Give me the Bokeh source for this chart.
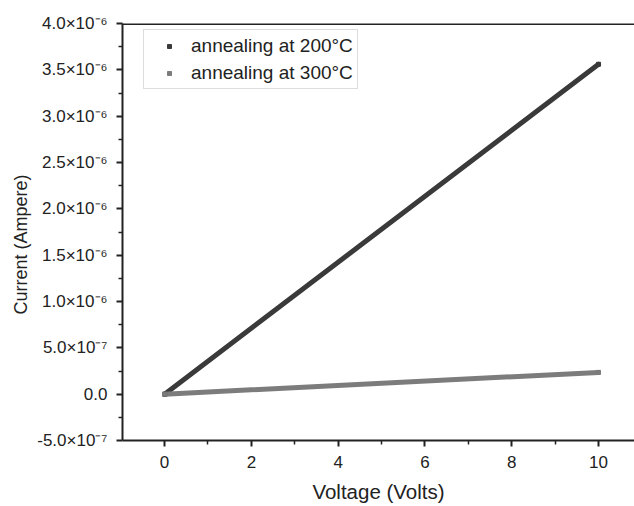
from bokeh.plotting import figure
from bokeh.models import (FixedTicker, CustomJSTickFormatter, Span, Legend, LegendItem, Range1d)
from bokeh.embed import file_html
from bokeh.resources import INLINE

voltage = [0, 10]
current_200 = [0.0, 3.56e-6]
current_300 = [0.0, 2.35e-7]
labels = ["annealing at 200\u00b0C", "annealing at 300\u00b0C"]
colors = ["#3a3a3a", "#7c7c7c"]

y_major = [-5e-7, 0.0, 5e-7, 1e-6, 1.5e-6, 2e-6, 2.5e-6, 3e-6, 3.5e-6, 4e-6]
y_minor = [-2.5e-7, 2.5e-7, 7.5e-7, 1.25e-6, 1.75e-6, 2.25e-6, 2.75e-6, 3.25e-6, 3.75e-6]
x_major = [0, 2, 4, 6, 8, 10]
x_minor = [-1, 1, 3, 5, 7, 9]

FONT = "Liberation Sans"

p = figure(width=634, height=506, output_backend="svg", toolbar_location=None,
           x_range=Range1d(-0.97, 10.83), y_range=Range1d(-5e-7, 4e-6),
           min_border_left=122, min_border_top=23, min_border_bottom=66, min_border_right=0)
p.grid.visible = False
p.outline_line_color = None
p.background_fill_color = "white"
p.border_fill_color = "white"

for v, c, col in ((voltage, current_200, colors[0]), (voltage, current_300, colors[1])):
    p.line(v, c, line_color=col, line_width=5, line_cap="round")

r1 = p.scatter(voltage, current_200, marker="square", size=4, color=colors[0])
r2 = p.scatter(voltage, current_300, marker="square", size=4, color=colors[1])

fmt = CustomJSTickFormatter(code="""
if (Math.abs(tick) < 1e-15) return "0.0";
const e = Math.floor(Math.log10(Math.abs(tick)) + 1e-9);
const m = tick / Math.pow(10, e);
const sup = {'-':'\u207b','0':'\u2070','1':'\u00b9','2':'\u00b2','3':'\u00b3','4':'\u2074','5':'\u2075','6':'\u2076','7':'\u2077','8':'\u2078','9':'\u2079'};
const es = String(e).split('').map(ch => sup[ch]).join('');
return m.toFixed(1) + "\u00d710" + es;
""")

ya = p.yaxis[0]
ya.ticker = FixedTicker(ticks=y_major, minor_ticks=y_minor)
ya.formatter = fmt
xa = p.xaxis[0]
xa.ticker = FixedTicker(ticks=x_major, minor_ticks=x_minor)

for ax in (xa, ya):
    ax.axis_line_width = 2
    ax.axis_line_color = "#222222"
    ax.major_tick_line_width = 2
    ax.major_tick_line_color = "#222222"
    ax.minor_tick_line_width = 1.5
    ax.minor_tick_line_color = "#222222"
    ax.major_tick_in = 0
    ax.major_tick_out = 6
    ax.minor_tick_in = 0
    ax.minor_tick_out = 4
    ax.major_label_text_font = FONT
    ax.major_label_text_font_size = "17px"
    ax.major_label_text_color = "#222222"
    ax.axis_label_text_font = FONT
    ax.axis_label_text_font_style = "normal"
    ax.axis_label_text_color = "#222222"

xa.axis_label_text_font_size = "20.5px"
ya.axis_label_text_font_size = "18px"
xa.axis_label = "Voltage (Volts)"
ya.axis_label = "Current (Ampere)" + "\u00a0" * 5
xa.major_label_standoff = 9
ya.major_label_standoff = 9
xa.axis_label_standoff = 9
ya.axis_label_standoff = 3

p.add_layout(Span(location=4e-6, dimension="width", line_color="#222222", line_width=3))

legend = Legend(items=[LegendItem(label=labels[0], renderers=[r1]),
                       LegendItem(label=labels[1], renderers=[r2])],
                location=(21, 351))
legend.label_text_font = FONT
legend.label_text_font_size = "19px"
legend.label_text_color = "#222222"
legend.border_line_color = "#bbbbbb"
legend.border_line_width = 1
legend.padding = 4
legend.spacing = 4
legend.glyph_width = 42
legend.glyph_height = 10
legend.label_standoff = 1
legend.label_height = 23
legend.margin = 0
p.add_layout(legend, "center")

open("out.html", "w").write(file_html(p, INLINE))
